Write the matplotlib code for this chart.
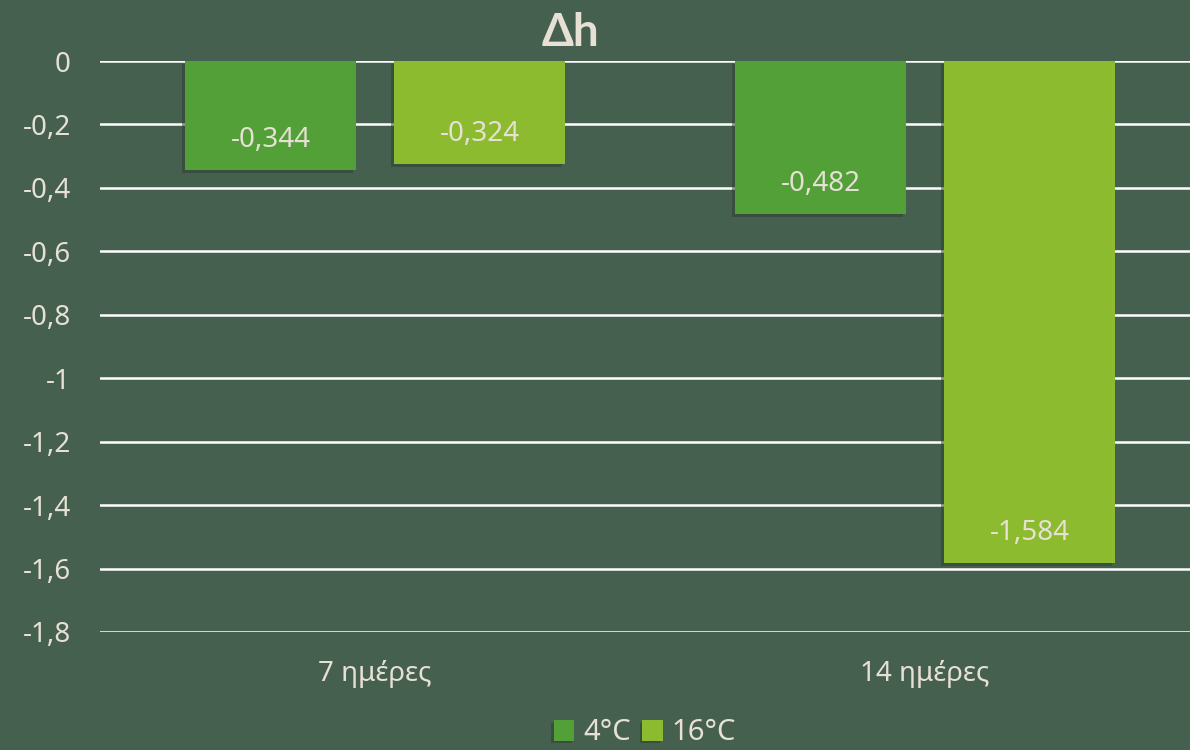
import matplotlib
matplotlib.use("Agg")
import matplotlib.pyplot as plt
import numpy as np
from matplotlib.ticker import FuncFormatter
import matplotlib.patheffects as pe

categories = ["7 ημέρες", "14 ημέρες"]
series_names = ["4°C", "16°C"]
values_4 = [-0.344, -0.482]
values_16 = [-0.324, -1.584]
yticks = [0, -0.2, -0.4, -0.6, -0.8, -1.0, -1.2, -1.4, -1.6, -1.8]

bg = "#46604F"
c1 = "#52A037"
c2 = "#8CBB30"
txt = "#E6E0D5"

plt.rcParams['font.family'] = ['Noto Sans', 'DejaVu Sans']
FS = 20
FW = 'light'

fig = plt.figure(figsize=(11.9, 7.5), dpi=100, facecolor=bg)
ax = fig.add_axes([100/1190, 118/750, 1100/1190, 571/750])
ax.set_facecolor(bg)

x = np.arange(len(categories))
w = 0.311
off = 0.19
shadow = [pe.SimplePatchShadow(offset=(-2, -2), shadow_rgbFace='#2f3d33', alpha=0.5), pe.Normal()]
b1 = ax.bar(x - off, values_4, w, color=c1, label=series_names[0], zorder=3, path_effects=shadow)
b2 = ax.bar(x + off, values_16, w, color=c2, label=series_names[1], zorder=3, path_effects=shadow)

def fmt(v):
    return ("%g" % v).replace(".", ",")

for bars, vals in ((b1, values_4), (b2, values_16)):
    for rect, v in zip(bars, vals):
        ax.annotate(("%.3f" % v).replace(".", ","),
                    (rect.get_x() + rect.get_width()/2, v),
                    xytext=(0, 30), textcoords="offset pixels",
                    ha="center", va="center", color=txt, fontsize=FS, fontweight=FW, zorder=4)

ax.set_xlim(-0.5, 1.5)
ax.set_ylim(-1.8, 0)
ax.set_yticks(yticks)
ax.yaxis.set_major_formatter(FuncFormatter(lambda v, p: fmt(round(v, 1)) if abs(v) > 1e-9 else "0"))
ax.set_xticks(x)
ax.set_xticklabels(categories)
ax.tick_params(axis='both', length=0, colors=txt, labelsize=FS)
for lab in ax.get_xticklabels() + ax.get_yticklabels():
    lab.set_fontweight(FW)
ax.tick_params(axis='x', pad=20)
ax.tick_params(axis='y', pad=21)
ax.yaxis.grid(True, color="white", linewidth=1.8, zorder=1)
ax.set_axisbelow(True)
for s in ax.spines.values():
    s.set_visible(False)

fig.text(570/1190, 1 - 33/750, "Δh", ha="center", va="center", color=txt,
         fontsize=33, fontweight="bold", family=['Lato', 'DejaVu Sans'])

leg = fig.legend(handles=[b1, b2], labels=series_names, loc="center",
                 bbox_to_anchor=(645/1190, 1 - 733/750), ncol=2, frameon=False,
                 prop={'size': 21, 'weight': FW}, handlelength=0.7, handleheight=0.7,
                 handletextpad=0.3, columnspacing=0.4, labelcolor=txt)

fig.savefig("out.png", dpi=100, facecolor=bg)
